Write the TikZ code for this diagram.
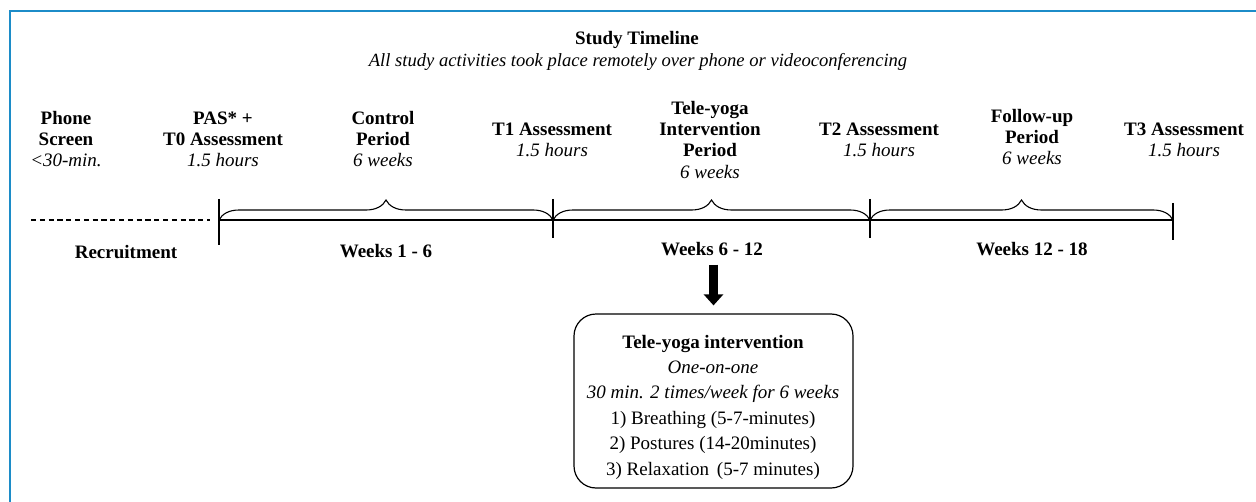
\documentclass[tikz,border=0pt]{standalone}
\usepackage{fontspec}
\setmainfont{Liberation Serif}
\usetikzlibrary{decorations.pathreplacing,arrows.meta}
\definecolor{frameblue}{RGB}{28,140,200}
\tikzset{
  lbl/.style={anchor=base, align=center, inner sep=0pt, font=\fontsize{9.5}{10.6}\selectfont},
  boxlbl/.style={anchor=base, align=center, inner sep=0pt, font=\fontsize{9.5}{12.7}\selectfont},
  axis/.style={line width=0.8pt},
  tick/.style={line width=0.8pt},
  brc/.style={decorate, decoration={brace, amplitude=10pt}, line width=0.55pt},
  frame/.style={draw=frameblue, line width=1pt},
  bigarrow/.style={line width=4.5pt, -{Triangle[width=9.5pt,length=5.5pt]}},
}
\begin{document}
\begin{tikzpicture}[x=0.5pt,y=-0.5pt]
\useasboundingbox (0,0) rectangle (1256,502);
\draw[frame] (10,502) -- (10,11) -- (1256,11);

% title (anchor = baseline of last line)
\node[lbl] (title) at (637,45) {\textbf{Study Timeline}};
\node[lbl, font=\fontsize{9.3}{10.6}\selectfont] (subtitle) at (638,67) {\textit{All study activities took place remotely over phone or videoconferencing}};

% top labels
\node[lbl] (phone) at (66,167) {\textbf{Phone}\\\textbf{Screen}\\\textit{<30-min.}};
\node[lbl] (pas) at (223,167) {\textbf{PAS* +}\\\textbf{T0 Assessment}\\\textit{1.5 hours}};
\node[lbl] (control) at (383,167) {\textbf{Control}\\\textbf{Period}\\\textit{6 weeks}};
\node[lbl] (t1) at (552,157) {\textbf{T1 Assessment}\\\textit{1.5 hours}};
\node[lbl] (tele) at (710,178) {\textbf{Tele-yoga}\\\textbf{Intervention}\\\textbf{Period}\\\textit{6 weeks}};
\node[lbl] (t2) at (879,157) {\textbf{T2 Assessment}\\\textit{1.5 hours}};
\node[lbl] (follow) at (1032,165) {\textbf{Follow-up}\\\textbf{Period}\\\textit{6 weeks}};
\node[lbl] (t3) at (1184,157) {\textbf{T3 Assessment}\\\textit{1.5 hours}};

% timeline
\coordinate (d0) at (31,220);
\coordinate (a0) at (219,220);
\coordinate (a1) at (553,220);
\coordinate (a2) at (870,220);
\coordinate (a3) at (1173,220);
\draw[dashed, dash pattern=on 2.6pt off 1.8pt, line width=0.6pt] (d0) -- (210,220);
\draw[axis] (a0) -- (a3);
\draw[tick] (219,199) -- (219,245);
\draw[tick] (553,199) -- (553,238);
\draw[tick] (870,199) -- (870,238);
\draw[tick] (1173,203) -- (1173,240);
\draw[brc] (a0) -- (a1);
\draw[brc] (a1) -- (a2);
\draw[brc] (a2) -- (a3);

% bottom labels
\node[lbl] (recruit) at (126,258) {\textbf{Recruitment}};
\node[lbl] (w1) at (386,257) {\textbf{Weeks 1 - 6}};
\node[lbl] (w2) at (712,256) {\textbf{Weeks 6 - 12}};
\node[lbl] (w3) at (1032,256) {\textbf{Weeks 12 - 18}};

% intervention box
\node[draw, line width=0.6pt, rounded corners=11pt, minimum width=139.5pt, minimum height=87pt, inner sep=0pt] (box) at (713.5,401) {};
\node[boxlbl] (boxtext) at (713,475) {\textbf{Tele-yoga intervention}\\\textit{One-on-one}\\\textit{30 min. 2 times/week for 6 weeks}\\1) Breathing (5-7-minutes)\\2) Postures (14-20minutes)\\3) Relaxation\, (5-7 minutes)};

\draw[bigarrow, shorten <=4pt, shorten >=4pt] (w2.south -| box.north) -- (box.north);
\end{tikzpicture}
\end{document}
